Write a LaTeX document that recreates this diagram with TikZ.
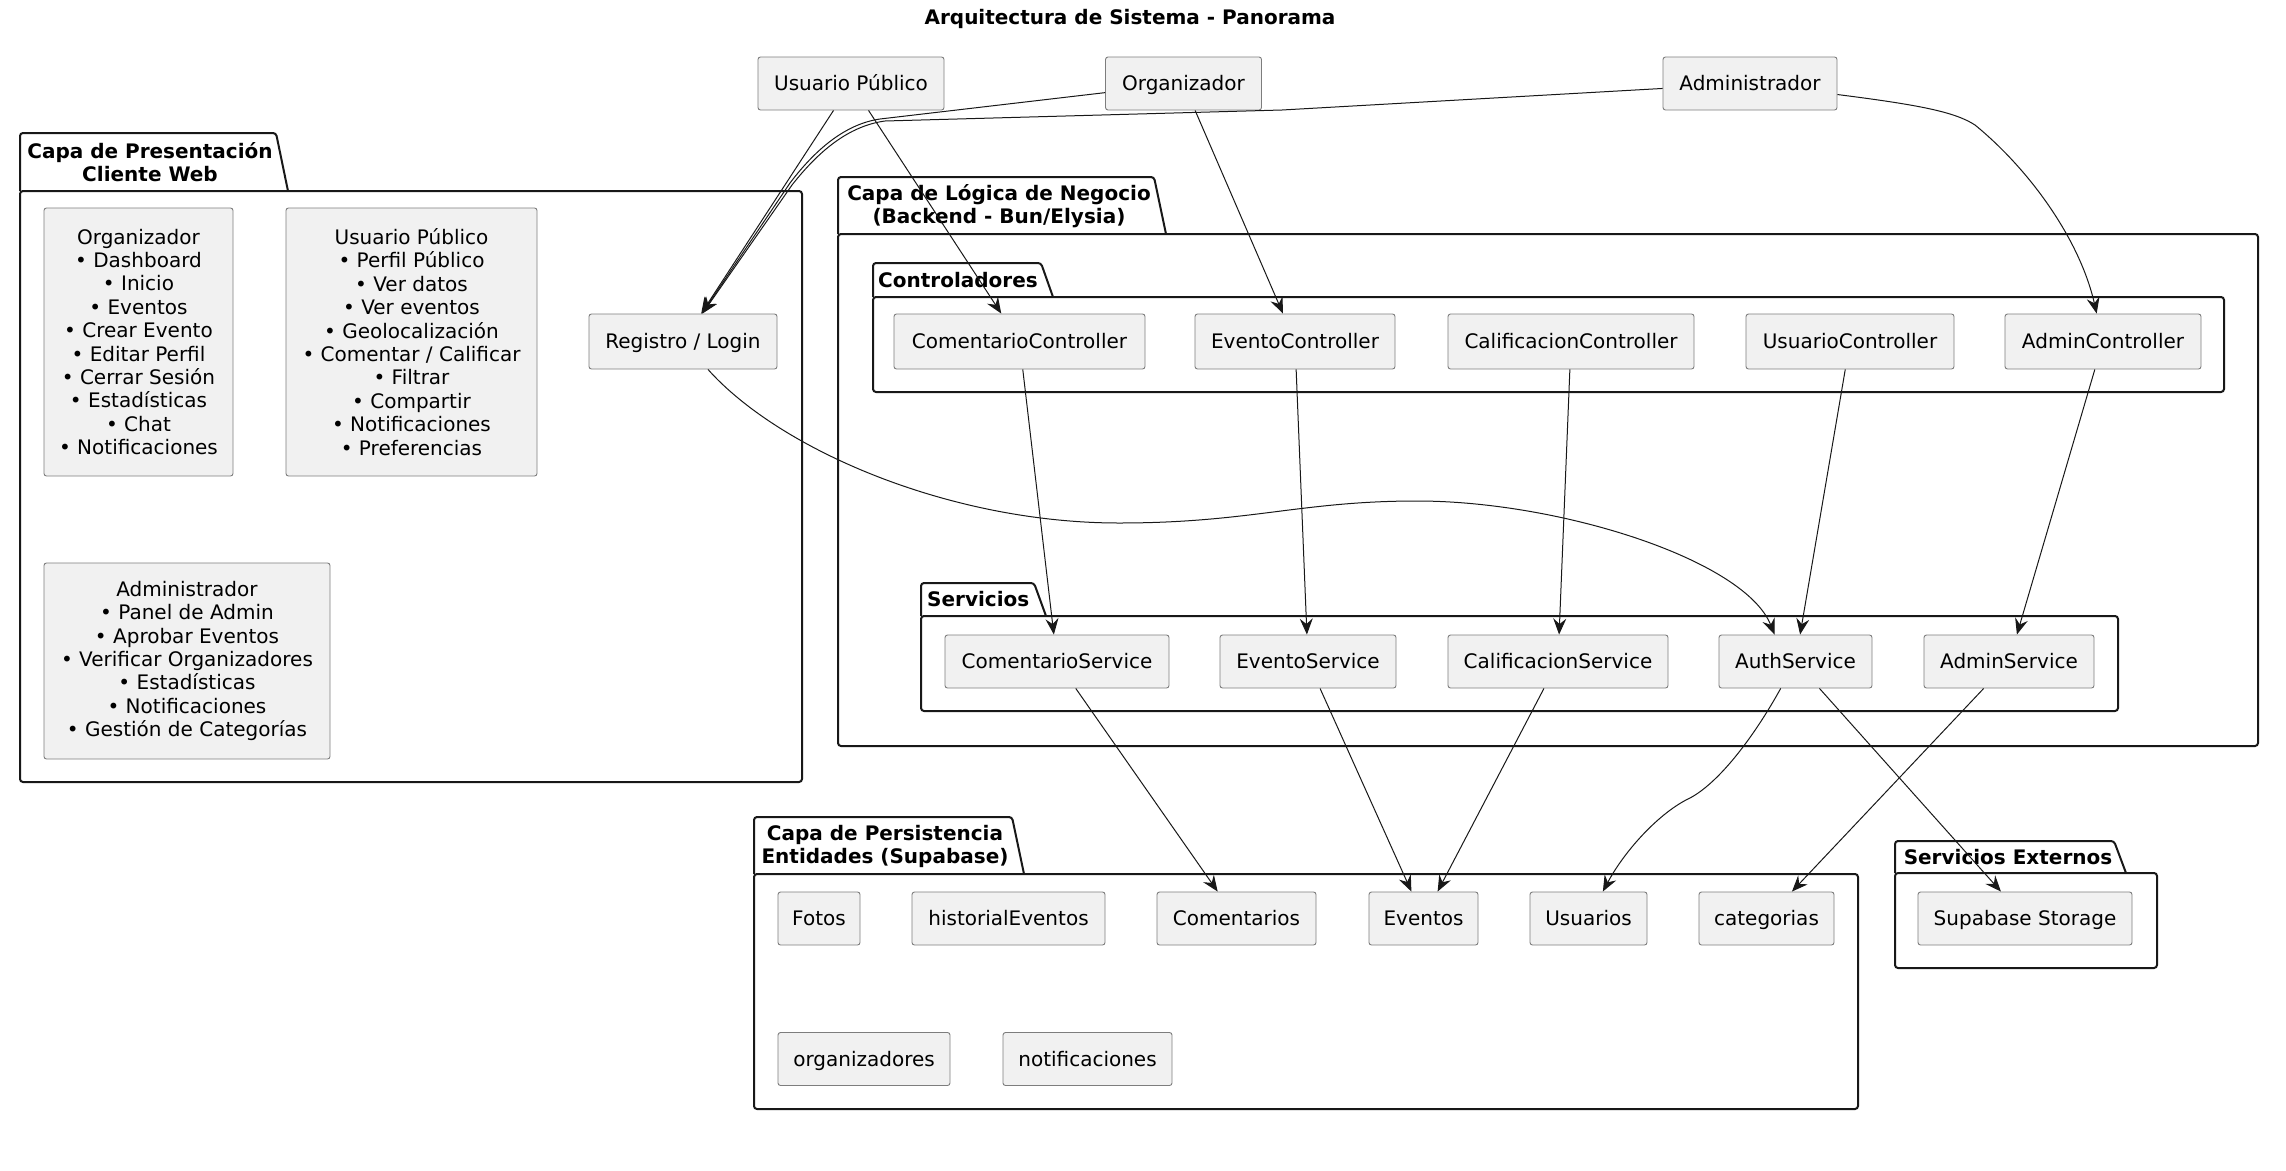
\documentclass[tikz,border=0pt]{standalone}
\usepackage{fontspec}
\setmainfont{DejaVu Sans}
\usepackage{tikz}
\usetikzlibrary{arrows.meta}

\definecolor{boxfill}{RGB}{241,241,241}
\definecolor{boxline}{RGB}{125,125,125}
\definecolor{inkline}{RGB}{24,24,24}

\begin{document}
\begin{tikzpicture}
  [
    x=1pt, y=-1pt,
    every node/.style={font=\fontsize{20pt}{23.4pt}\selectfont, text=black},
    panel/.style={draw=boxline, fill=boxfill, line width=0.9pt, rounded corners=2.5pt,
      inner sep=0pt, align=center},
    comp/.style={panel, minimum height=53pt, text height=16pt, text depth=1.4pt},
    pkg/.style={draw=inkline, line width=2pt, rounded corners=3pt},
    pkglabel/.style={font=\bfseries\fontsize{20pt}{23pt}\selectfont, align=center, inner sep=0pt},
    link/.style={draw=inkline, line width=1pt, -{Stealth[length=16pt,width=13pt,inset=5.5pt]}}
  ]

  % Rahmen
  \useasboundingbox (0,0) rectangle (2286,1170);

  \node[pkglabel] (title) at (1130,19) {Arquitectura de Sistema - Panorama};

  % Pakete
  \foreach \xa/\ta/\tb/\yb/\xb/\yc in {20/133/288/191/802/782,
      838/177/1166/234/2258/746, 873/263/1053/297/2224/392,
      921/583/1046/616/2118/711, 754/817/1024/874/1858/1109,
      1895/841/2126/873/2157/968}
  {
    \draw[pkg] (\xa,\yb) -- (\xa,\ta) -- (\tb-12,\ta) -- (\tb,\yb);
    \draw[pkg] (\xa,\yb) rectangle (\xb,\yc);
  }

  \node[pkglabel] (lblpres) at (150,162) {Capa de Presentación\\Cliente Web};
  \node[pkglabel] (lbllog) at (999,206) {Capa de Lógica de Negocio\\(Backend - Bun/Elysia)};
  \node[pkglabel, anchor=west] (lblctrl) at (878,280) {Controladores};
  \node[pkglabel, anchor=west] (lblserv) at (927,599) {Servicios};
  \node[pkglabel] (lblpers) at (885,846) {Capa de Persistencia\\Entidades (Supabase)};
  \node[pkglabel] (lblext) at (2008,857) {Servicios Externos};

  % Akteure
  \node[comp, minimum width=186pt] (upub) at (851,83.5) {Usuario Público};
  \node[comp, minimum width=156pt] (aorg) at (1183.5,83.5) {Organizador};
  \node[comp, minimum width=174pt] (aadm) at (1750,83.5) {Administrador};

  % Cliente Web
  \node[panel, minimum width=189pt, minimum height=268pt] (vorg) at (138.5,342)
    {Organizador\\• Dashboard\\• Inicio\\• Eventos\\• Crear Evento\\• Editar Perfil\\• Cerrar Sesión\\• Estadísticas\\• Chat\\• Notificaciones};
  \node[panel, minimum width=251pt, minimum height=268pt] (vpub) at (411.5,342)
    {Usuario Público\\• Perfil Público\\• Ver datos\\• Ver eventos\\• Geolocalización\\• Comentar / Calificar\\• Filtrar\\• Compartir\\• Notificaciones\\• Preferencias};
  \node[panel, minimum width=286pt, minimum height=196pt] (vadm) at (187,661)
    {Administrador\\• Panel de Admin\\• Aprobar Eventos\\• Verificar Organizadores\\• Estadísticas\\• Notificaciones\\• Gestión de Categorías};
  \node[comp, minimum width=188pt, minimum height=55pt] (reg) at (683,341.5) {Registro / Login};

  % Controladores
  \node[comp, minimum width=251pt, minimum height=55pt] (comC) at (1019.5,341.5) {ComentarioController};
  \node[comp, minimum width=200pt, minimum height=55pt] (evC) at (1295,341.5) {EventoController};
  \node[comp, minimum width=246pt, minimum height=55pt] (calC) at (1571,341.5) {CalificacionController};
  \node[comp, minimum width=208pt, minimum height=55pt] (usuC) at (1850,341.5) {UsuarioController};
  \node[comp, minimum width=196pt, minimum height=55pt] (admC) at (2103,341.5) {AdminController};

  % Servicios
  \node[comp, minimum width=224pt] (comS) at (1057,661.5) {ComentarioService};
  \node[comp, minimum width=176pt] (evS) at (1308,661.5) {EventoService};
  \node[comp, minimum width=220pt] (calS) at (1558,661.5) {CalificacionService};
  \node[comp, minimum width=153pt] (autS) at (1795.5,661.5) {AuthService};
  \node[comp, minimum width=170pt] (admS) at (2009,661.5) {AdminService};

  % Entidades
  \node[comp, minimum width=82pt] (fot) at (819,918.5) {Fotos};
  \node[comp, minimum width=193pt] (hist) at (1008.5,918.5) {historialEventos};
  \node[comp, minimum width=159pt] (coment) at (1236.5,918.5) {Comentarios};
  \node[comp, minimum width=109pt] (evt) at (1423.5,918.5) {Eventos};
  \node[comp, minimum width=117pt] (usu) at (1588.5,918.5) {Usuarios};
  \node[comp, minimum width=135pt] (cat) at (1766.5,918.5) {categorias};
  \node[comp, minimum width=172pt] (orgz) at (864,1059) {organizadores};
  \node[comp, minimum width=169pt] (notif) at (1087.5,1059) {notificaciones};
  \node[comp, minimum width=214pt] (stor) at (2025,918.5) {Supabase Storage};

  % Verbindungen
  \draw[link] (upub) -- (reg);
  \draw[link] (upub) -- (comC);
  \draw[link] (aorg) -- (880,119) .. controls (845,124) and (815,150) .. (790,183) -- (reg);
  \draw[link] (aadm) -- (1282,110) -- (885,121) .. controls (848,126) and (818,152) .. (792,185) -- (reg);
  \draw[link] (aorg) -- (evC);
  \draw[link] (aadm) .. controls (1920,105) and (1955,112) .. (1975,125)
    .. controls (2030,170) and (2080,240) .. (admC);
  \draw[link] (reg) .. controls (780,450) and (950,523) .. (1119,523)
    .. controls (1250,523) and (1300,501) .. (1417,501)
    .. controls (1560,501) and (1745,560) .. ([xshift=-21pt]autS.north);

  \draw[link] (comC) -- (comS);
  \draw[link] (evC) -- (evS);
  \draw[link] (calC) -- (calS);
  \draw[link] (usuC) -- (autS);
  \draw[link] (admC) -- (admS);

  \draw[link] (comS) -- (coment);
  \draw[link] (evS) -- (evt);
  \draw[link] (calS) -- (evt);
  \draw[link] (autS) .. controls (1755,735) and (1720,782) .. (1690,798)
    .. controls (1660,812) and (1625,850) .. (usu);
  \draw[link] (autS) -- (stor);
  \draw[link] (admS) -- (cat);
\end{tikzpicture}
\end{document}
